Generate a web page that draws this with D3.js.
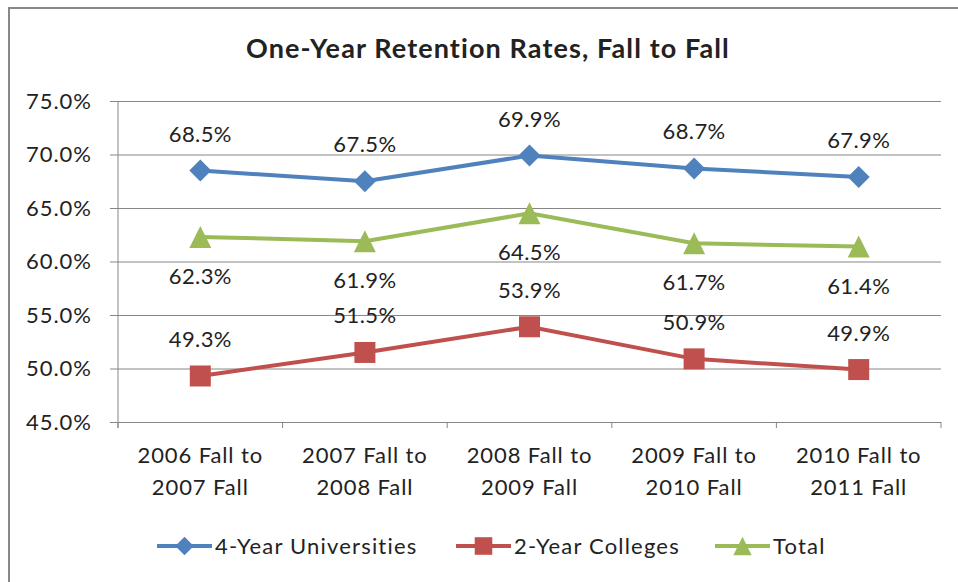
<!DOCTYPE html>
<html>
<head>
<meta charset="utf-8">
<script src="https://cdn.jsdelivr.net/npm/d3@7"></script>
<style>
  html, body { margin: 0; padding: 0; background: #fff; }
  svg text { font-family: Lato, "Open Sans", sans-serif; fill: #222; }
</style>
</head>
<body>
<div id="chart"></div>
<script>
const categories = ['2006 Fall to|2007 Fall', '2007 Fall to|2008 Fall', '2008 Fall to|2009 Fall', '2009 Fall to|2010 Fall', '2010 Fall to|2011 Fall'];
const fourYear = [68.5, 67.5, 69.9, 68.7, 67.9];
const twoYear = [49.3, 51.5, 53.9, 50.9, 49.9];
const total = [62.3, 61.9, 64.5, 61.7, 61.4];
const yTicks = [45, 50, 55, 60, 65, 70, 75];
const seriesNames = ['4-Year Universities', '2-Year Colleges', 'Total'];

const W = 958, H = 582;
const L = 118, R = 941, T = 101, B = 422;

// excel-like markers, size = box edge squared
const diamond = {
  draw(ctx, size) {
    const r = Math.sqrt(size) / 2;
    ctx.moveTo(0, -r); ctx.lineTo(r, 0); ctx.lineTo(0, r); ctx.lineTo(-r, 0); ctx.closePath();
  }
};
const triangle = {
  draw(ctx, size) {
    const r = Math.sqrt(size) / 2;
    ctx.moveTo(0, -r); ctx.lineTo(r, r); ctx.lineTo(-r, r); ctx.closePath();
  }
};

const svg = d3.select('#chart').append('svg')
  .attr('width', W).attr('height', H);

svg.append('rect')
  .attr('x', 9).attr('y', 8).attr('width', W).attr('height', H)
  .attr('fill', '#fff').attr('stroke', '#888').attr('stroke-width', 2);

svg.append('text')
  .attr('x', 488).attr('y', 58)
  .attr('text-anchor', 'middle')
  .style('font-size', '27px').style('font-weight', 'bold')
  .style('letter-spacing', '1.1px')
  .text('One-Year Retention Rates, Fall to Fall');

const y = d3.scaleLinear().domain([45, 75]).range([B, T]);
const x = d3.scaleBand().domain(categories).range([L, R]);
const cx = d => x(d) + x.bandwidth() / 2;

// y axis + gridlines
const yAxis = d3.axisLeft(y)
  .tickValues(yTicks)
  .tickSize(-(R - L + 8))
  .tickPadding(18)
  .tickFormat(d => d.toFixed(1) + '%');

const gy = svg.append('g')
  .attr('transform', `translate(${L - 8},0)`)
  .call(yAxis);
gy.select('.domain').remove();
gy.selectAll('line').attr('stroke', '#868686');
gy.selectAll('text').style('font-size', '22px').style('letter-spacing', '1px').attr('fill', '#222');

svg.append('line')
  .attr('x1', L).attr('x2', L).attr('y1', T).attr('y2', B + 6)
  .attr('stroke', '#868686');

// x ticks at category boundaries
const edges = d3.range(categories.length + 1).map(i => L + i * x.step());
svg.selectAll('.xtick').data(edges).enter().append('line')
  .attr('class', 'xtick')
  .attr('x1', d => d).attr('x2', d => d)
  .attr('y1', B).attr('y2', B + 6)
  .attr('stroke', '#868686');

const xl = svg.selectAll('.xlab').data(categories).enter().append('text')
  .attr('class', 'xlab')
  .attr('text-anchor', 'middle')
  .style('font-size', '22px')
  .style('letter-spacing', '0.9px');
xl.each(function(d) {
  const parts = d.split('|');
  d3.select(this).selectAll('tspan').data(parts).enter().append('tspan')
    .attr('x', cx(d))
    .attr('y', (p, i) => 463 + i * 32)
    .text(p => p);
});

const line = d3.line()
  .x((v, i) => cx(categories[i]))
  .y(v => y(v));

const series = [
  { name: seriesNames[0], values: fourYear, color: '#4F81BD', shape: diamond, size: 484, labelDy: -29 },
  { name: seriesNames[1], values: twoYear, color: '#C0504D', shape: d3.symbolSquare, size: 441, labelDy: -29 },
  { name: seriesNames[2], values: total, color: '#9BBB59', shape: triangle, size: 484, labelDy: 47 }
];

series.forEach(s => {
  svg.append('path')
    .attr('d', line(s.values))
    .attr('fill', 'none')
    .attr('stroke', s.color)
    .attr('stroke-width', 4);

  svg.selectAll(null).data(s.values).enter().append('path')
    .attr('transform', (v, i) => `translate(${cx(categories[i])},${y(v)})`)
    .attr('d', d3.symbol().type(s.shape).size(s.size))
    .attr('fill', s.color);

  svg.selectAll(null).data(s.values).enter().append('text')
    .attr('x', (v, i) => cx(categories[i]))
    .attr('y', v => y(v) + s.labelDy)
    .attr('text-anchor', 'middle')
    .style('font-size', '22px')
    .style('letter-spacing', '0.4px')
    .text(v => v.toFixed(1) + '%');
});

// legend
const legendX = [157, 456, 715];
series.forEach((s, i) => {
  const g = svg.append('g').attr('transform', `translate(${legendX[i]},546)`);
  g.append('line').attr('x1', 0).attr('x2', 55)
    .attr('stroke', s.color).attr('stroke-width', 4);
  g.append('path').attr('transform', 'translate(27.5,0)')
    .attr('d', d3.symbol().type(s.shape).size(s.size * 0.7))
    .attr('fill', s.color);
  g.append('text').attr('x', 58).attr('y', 8)
    .style('font-size', '22px')
    .style('letter-spacing', '1.2px')
    .text(s.name);
});
</script>
</body>
</html>
